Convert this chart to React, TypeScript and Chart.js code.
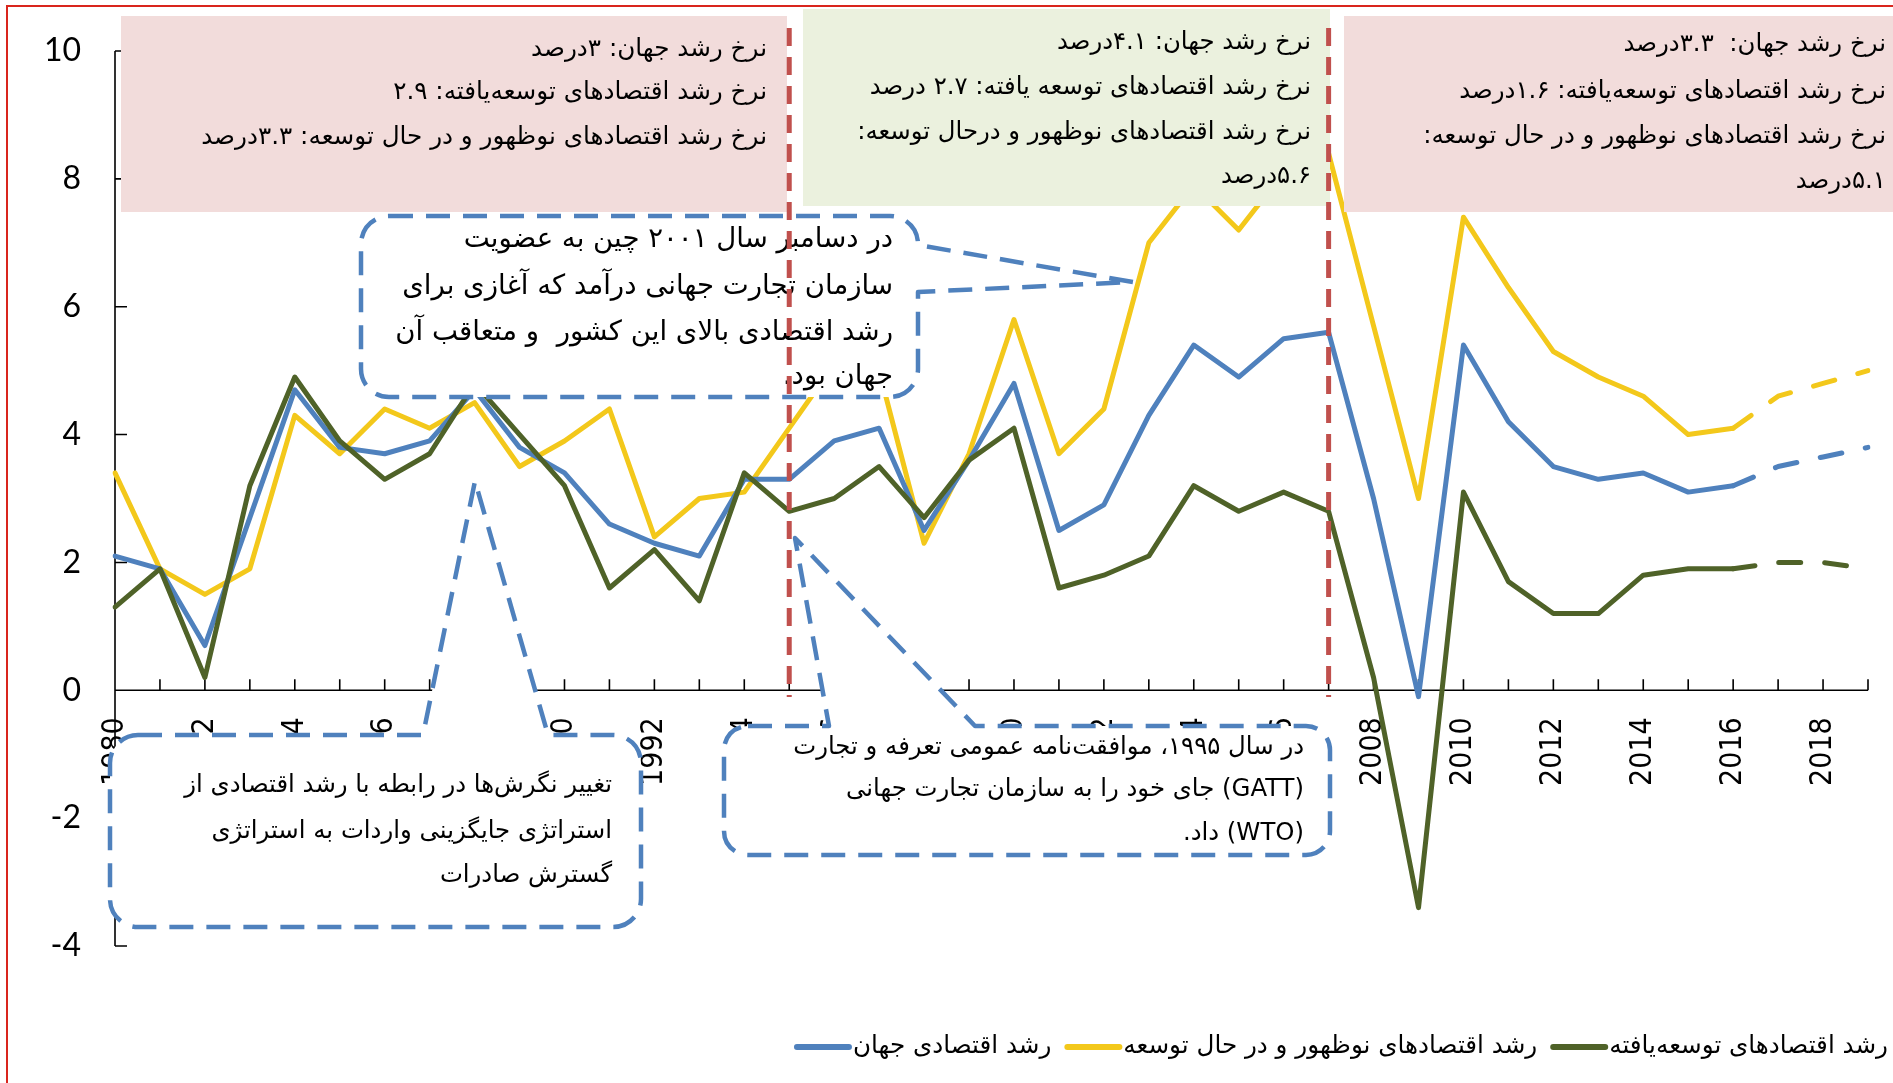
import React, { useEffect, useRef } from 'react';
import { Chart, registerables } from 'chart.js';

Chart.register(...registerables);

// ---------------- data ----------------
const years = [
  '1980', '1981', '1982', '1983', '1984', '1985', '1986', '1987', '1988', '1989',
  '1990', '1991', '1992', '1993', '1994', '1995', '1996', '1997', '1998', '1999',
  '2000', '2001', '2002', '2003', '2004', '2005', '2006', '2007', '2008', '2009',
  '2010', '2011', '2012', '2013', '2014', '2015', '2016', '2017', '2018', '2019',
];

const worldGrowth = [
  2.1, 1.9, 0.7, 2.7, 4.7, 3.8, 3.7, 3.9, 4.7, 3.8,
  3.4, 2.6, 2.3, 2.1, 3.3, 3.3, 3.9, 4.1, 2.5, 3.6,
  4.8, 2.5, 2.9, 4.3, 5.4, 4.9, 5.5, 5.6, 3.0, -0.1,
  5.4, 4.2, 3.5, 3.3, 3.4, 3.1, 3.2, 3.5, 3.65, 3.8,
];

const emergingGrowth = [
  3.4, 1.9, 1.5, 1.9, 4.3, 3.7, 4.4, 4.1, 4.5, 3.5,
  3.9, 4.4, 2.4, 3.0, 3.1, 4.1, 5.1, 5.0, 2.3, 3.7,
  5.8, 3.7, 4.4, 7.0, 7.9, 7.2, 8.1, 8.4, 5.7, 3.0,
  7.4, 6.3, 5.3, 4.9, 4.6, 4.0, 4.1, 4.6, 4.8, 5.0,
];

const advancedGrowth = [
  1.3, 1.9, 0.2, 3.2, 4.9, 3.9, 3.3, 3.7, 4.8, 4.0,
  3.2, 1.6, 2.2, 1.4, 3.4, 2.8, 3.0, 3.5, 2.7, 3.6,
  4.1, 1.6, 1.8, 2.1, 3.2, 2.8, 3.1, 2.8, 0.2, -3.4,
  3.1, 1.7, 1.2, 1.2, 1.8, 1.9, 1.9, 2.0, 2.0, 1.9,
];

const yTicks = [-4, -2, 0, 2, 4, 6, 8, 10];
const forecastStartYear = '2016';
const markerYears = ['1995', '2007'];

const labelWorld = 'رشد اقتصادی جهان';
const labelEmerging = 'رشد اقتصادهای نوظهور و در حال توسعه';
const labelAdvanced = 'رشد اقتصادهای توسعه‌یافته';

const period1Lines = [
  'نرخ رشد جهان: ۳درصد',
  'نرخ رشد اقتصادهای توسعه‌یافته: ۲.۹',
  'نرخ رشد اقتصادهای نوظهور و در حال توسعه: ۳.۳درصد',
];
const period2Lines = [
  'نرخ رشد جهان: ۴.۱درصد',
  'نرخ رشد اقتصادهای توسعه یافته: ۲.۷ درصد',
  'نرخ رشد اقتصادهای نوظهور و درحال توسعه:',
  '۵.۶درصد',
];
const period3Lines = [
  'نرخ رشد جهان:  ۳.۳درصد',
  'نرخ رشد اقتصادهای توسعه‌یافته: ۱.۶درصد',
  'نرخ رشد اقتصادهای نوظهور و در حال توسعه:',
  '۵.۱درصد',
];
const chinaNoteLines = [
  'در دسامبر سال ۲۰۰۱ چین به عضویت',
  'سازمان تجارت جهانی درآمد که آغازی برای',
  'رشد اقتصادی بالای این کشور  و متعاقب آن',
  'جهان بود.',
];
const strategyNoteLines = [
  'تغییر نگرش‌ها در رابطه با رشد اقتصادی از',
  'استراتژی جایگزینی واردات به استراتژی',
  'گسترش صادرات',
];
const wtoNoteLines = [
  'در سال ۱۹۹۵، موافقت‌نامه عمومی تعرفه و تجارت',
  '(GATT) جای خود را به سازمان تجارت جهانی',
  '(WTO) داد.',
];

// ---------------- styles ----------------
const BLUE = '#4f81bd';
const YELLOW = '#f3c81b';
const GREEN = '#4f6228';
const RED_DASH = '#c0504d';
const PINK_BOX = '#f2dcdb';
const GREEN_BOX = '#ebf1de';
const FA = '"DejaVu Sans", sans-serif';

function fitSize(ctx: CanvasRenderingContext2D, text: string, target: number) {
  ctx.save();
  ctx.font = `100px ${FA}`;
  ctx.direction = 'rtl';
  const w = ctx.measureText(text).width;
  ctx.restore();
  return (100 * target) / w;
}

function drawLines(
  ctx: CanvasRenderingContext2D,
  lines: string[],
  rightX: number,
  centers: number[],
  size: number,
) {
  ctx.save();
  ctx.font = `${size}px ${FA}`;
  ctx.direction = 'rtl';
  ctx.textAlign = 'right';
  ctx.textBaseline = 'middle';
  ctx.fillStyle = '#000';
  lines.forEach((l, i) => ctx.fillText(l, rightX, centers[i]));
  ctx.restore();
}

type Wedge = { side: 'top' | 'right'; a: number; b: number; tip: [number, number] };

function calloutPath(
  ctx: CanvasRenderingContext2D,
  x: number, y: number, w: number, h: number, r: number, wedge: Wedge,
) {
  ctx.beginPath();
  ctx.moveTo(x + r, y);
  if (wedge.side === 'top') {
    ctx.lineTo(wedge.a, y);
    ctx.lineTo(wedge.tip[0], wedge.tip[1]);
    ctx.lineTo(wedge.b, y);
  }
  ctx.lineTo(x + w - r, y);
  ctx.arcTo(x + w, y, x + w, y + r, r);
  if (wedge.side === 'right') {
    ctx.lineTo(x + w, wedge.a);
    ctx.lineTo(wedge.tip[0], wedge.tip[1]);
    ctx.lineTo(x + w, wedge.b);
  }
  ctx.lineTo(x + w, y + h - r);
  ctx.arcTo(x + w, y + h, x + w - r, y + h, r);
  ctx.lineTo(x + r, y + h);
  ctx.arcTo(x, y + h, x, y + h - r, r);
  ctx.lineTo(x, y + r);
  ctx.arcTo(x, y, x + r, y, r);
  ctx.closePath();
}

function drawCallout(
  ctx: CanvasRenderingContext2D,
  x: number, y: number, w: number, h: number, r: number, wedge: Wedge,
) {
  ctx.save();
  calloutPath(ctx, x, y, w, h, r, wedge);
  ctx.fillStyle = '#fff';
  ctx.fill();
  ctx.setLineDash([24, 13]);
  ctx.lineWidth = 4.5;
  ctx.strokeStyle = BLUE;
  ctx.lineJoin = 'round';
  ctx.stroke();
  ctx.restore();
}

const axesPlugin = {
  id: 'customAxes',
  beforeDatasetsDraw(chart: any) {
    const { ctx, chartArea, scales } = chart;
    const xs = scales.x;
    const ys = scales.y;
    ctx.save();
    ctx.strokeStyle = '#000';
    ctx.lineWidth = 1.6;
    ctx.beginPath();
    ctx.moveTo(chartArea.left, ys.getPixelForValue(10));
    ctx.lineTo(chartArea.left, ys.getPixelForValue(-4));
    yTicks.forEach((v) => {
      const py = ys.getPixelForValue(v);
      ctx.moveTo(chartArea.left, py);
      ctx.lineTo(chartArea.left + 12, py);
    });
    const y0 = ys.getPixelForValue(0);
    ctx.moveTo(xs.getPixelForValue(0), y0);
    ctx.lineTo(xs.getPixelForValue(years.length - 1), y0);
    years.forEach((_, i) => {
      const px = xs.getPixelForValue(i);
      ctx.moveTo(px, y0);
      ctx.lineTo(px, y0 - 11);
    });
    ctx.stroke();
    ctx.restore();
  },
};

const annotationsPlugin = {
  id: 'annotations',
  afterDatasetsDraw(chart: any) {
    const { ctx, scales } = chart;
    const xs = scales.x;
    const W = chart.width;

    // period boxes
    ctx.save();
    ctx.fillStyle = PINK_BOX;
    ctx.fillRect(121, 16, 666, 196);
    ctx.fillStyle = GREEN_BOX;
    ctx.fillRect(803, 9, 527, 197);
    ctx.fillStyle = PINK_BOX;
    ctx.fillRect(1344, 16, W - 1344, 196);
    ctx.restore();

    drawLines(ctx, period1Lines, 767, [50, 93, 138], fitSize(ctx, period1Lines[2], 566));
    drawLines(ctx, period2Lines, 1311, [43, 88, 133, 177], fitSize(ctx, period2Lines[2], 454));
    drawLines(ctx, period3Lines, 1886, [45, 92, 137, 182], fitSize(ctx, period3Lines[2], 463));

    // callouts
    drawCallout(ctx, 361, 216, 557, 181, 28, { side: 'right', a: 245, b: 292, tip: [1133, 282] });
    drawLines(ctx, chinaNoteLines, 893, [240, 287, 333, 377], fitSize(ctx, chinaNoteLines[1], 491));

    drawCallout(ctx, 110, 735, 531, 192, 28, { side: 'top', a: 423, b: 548, tip: [475, 481] });
    drawLines(ctx, strategyNoteLines, 612, [786, 832, 876], fitSize(ctx, strategyNoteLines[0], 428));

    drawCallout(ctx, 724, 726, 606, 129, 24, { side: 'top', a: 829, b: 975, tip: [795, 538] });
    drawLines(ctx, wtoNoteLines, 1304, [748, 790, 834], fitSize(ctx, wtoNoteLines[0], 511));

    // red vertical markers
    ctx.save();
    ctx.strokeStyle = RED_DASH;
    ctx.lineWidth = 5;
    ctx.setLineDash([18, 11]);
    markerYears.forEach((yr) => {
      const px = xs.getPixelForValue(years.indexOf(yr));
      ctx.beginPath();
      ctx.moveTo(px, 28);
      ctx.lineTo(px, 697);
      ctx.stroke();
    });
    ctx.restore();

    // legend (right to left)
    const items = [
      { label: labelAdvanced, color: GREEN },
      { label: labelEmerging, color: YELLOW },
      { label: labelWorld, color: BLUE },
    ];
    const size = fitSize(ctx, labelAdvanced, 279);
    let right = 1888;
    const cy = 1047;
    ctx.save();
    ctx.font = `${size}px ${FA}`;
    ctx.direction = 'rtl';
    ctx.textAlign = 'right';
    ctx.textBaseline = 'middle';
    items.forEach((it) => {
      const w = ctx.measureText(it.label).width;
      ctx.fillStyle = '#000';
      ctx.fillText(it.label, right, cy);
      const lineR = right - w - 4;
      ctx.beginPath();
      ctx.strokeStyle = it.color;
      ctx.lineWidth = 6;
      ctx.lineCap = 'round';
      ctx.moveTo(lineR - 52, cy);
      ctx.lineTo(lineR, cy);
      ctx.stroke();
      right = lineR - 54 - 14;
    });
    ctx.restore();

    // red frame
    ctx.save();
    ctx.strokeStyle = '#d9251d';
    ctx.lineWidth = 2;
    ctx.beginPath();
    ctx.moveTo(7, chart.height);
    ctx.lineTo(7, 6);
    ctx.lineTo(W, 6);
    ctx.stroke();
    ctx.restore();
  },
};

export default function App() {
  const canvasRef = useRef<HTMLCanvasElement | null>(null);

  useEffect(() => {
    document.body.style.margin = '0';
    const canvas = canvasRef.current;
    if (!canvas) return;
    const forecastIdx = years.indexOf(forecastStartYear);
    const dashSeg = (c: any) => (c.p0DataIndex >= forecastIdx ? [22, 24] : undefined);
    const common = {
      borderWidth: 5,
      pointRadius: 0,
      pointHoverRadius: 0,
      tension: 0,
      fill: false,
      borderJoinStyle: 'round' as const,
      borderCapStyle: 'round' as const,
      segment: { borderDash: dashSeg },
    };
    const chart = new Chart(canvas, {
      type: 'line',
      data: {
        labels: years,
        datasets: [
          { ...common, label: labelAdvanced, data: advancedGrowth, borderColor: GREEN, order: 1 },
          { ...common, label: labelWorld, data: worldGrowth, borderColor: BLUE, order: 2 },
          { ...common, label: labelEmerging, data: emergingGrowth, borderColor: YELLOW, order: 3 },
        ],
      },
      options: {
        responsive: false,
        animation: false,
        devicePixelRatio: 1,
        layout: { padding: { left: 0, top: 51, right: 25, bottom: 137 } },
        plugins: { legend: { display: false }, tooltip: { enabled: false } },
        scales: {
          x: {
            type: 'category',
            position: { y: 0 } as any,
            offset: false,
            grid: { display: false, drawTicks: false },
            border: { display: false },
            afterFit: (s: any) => {
              s.paddingLeft = 0;
              s.paddingRight = 0;
            },
            ticks: {
              autoSkip: false,
              minRotation: 90,
              maxRotation: 90,
              padding: 27,
              color: '#000',
              font: { family: '"DejaVu Sans Condensed", "DejaVu Sans", sans-serif', size: 30 },
              callback: (_v: any, i: number) => (i % 2 === 0 ? years[i] : ''),
            },
          },
          y: {
            min: -4,
            max: 10,
            position: 'left',
            grid: { display: false, drawTicks: false },
            border: { display: false },
            afterFit: (s: any) => {
              s.width = 115;
              s.paddingTop = 0;
              s.paddingBottom = 0;
            },
            ticks: {
              stepSize: 2,
              padding: 34,
              color: '#000',
              font: { family: 'Lato, "Liberation Sans", sans-serif', size: 32 },
            },
          },
        },
      },
      plugins: [axesPlugin, annotationsPlugin],
    });
    return () => chart.destroy();
  }, []);

  return (
    <div style={{ position: 'fixed', left: 0, top: 0, width: 1893, height: 1083, background: '#fff' }}>
      <canvas ref={canvasRef} width={1893} height={1083} style={{ display: 'block' }} />
    </div>
  );
}
